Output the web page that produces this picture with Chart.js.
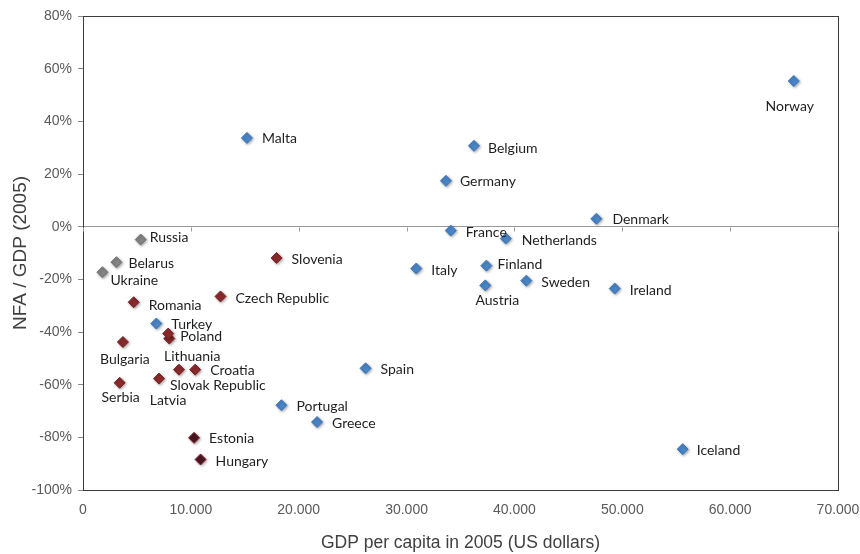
<!DOCTYPE html>
<html>
<head>
<meta charset="utf-8">
<script src="https://cdn.jsdelivr.net/npm/chart.js@4.4.1/dist/chart.umd.min.js"></script>
<style>
  html, body { margin: 0; padding: 0; background: #fff; }
  #wrap { width: 860px; height: 554px; }
</style>
</head>
<body>
<div id="wrap"><canvas id="nfa-chart" width="860" height="554"></canvas></div>
<script>
// country data (GDP per capita 2005, NFA/GDP in %)
var countries = [
  'Norway', 'Malta', 'Belgium', 'Germany', 'Denmark', 'France', 'Netherlands', 'Italy',
  'Finland', 'Austria', 'Sweden', 'Ireland', 'Iceland', 'Spain', 'Portugal', 'Greece', 'Turkey',
  'Slovenia', 'Czech Republic', 'Romania', 'Poland', 'Lithuania', 'Bulgaria', 'Croatia',
  'Slovak Republic', 'Latvia', 'Serbia',
  'Russia', 'Belarus', 'Ukraine',
  'Estonia', 'Hungary'
];
var gdpPerCapita = [
  65900, 15200, 36250, 33650, 47600, 34100, 39200, 30900,
  37400, 37300, 41100, 49300, 55600, 26200, 18400, 21700, 6800,
  17950, 12750, 4700, 8000, 7900, 3700, 10400,
  8900, 7050, 3400,
  5350, 3100, 1800,
  10300, 10900
];
var nfaShare = [
  55.3, 33.7, 30.7, 17.4, 3.0, -1.5, -4.5, -15.9,
  -14.8, -22.3, -20.5, -23.5, -84.5, -53.8, -67.8, -74.2, -36.8,
  -11.9, -26.5, -28.7, -42.5, -40.6, -43.8, -54.3,
  -54.3, -57.7, -59.3,
  -4.9, -13.5, -17.3,
  -80.2, -88.4
];
var groups = [
  'west', 'west', 'west', 'west', 'west', 'west', 'west', 'west',
  'west', 'west', 'west', 'west', 'west', 'west', 'west', 'west', 'west',
  'east', 'east', 'east', 'east', 'east', 'east', 'east',
  'east', 'east', 'east',
  'cis', 'cis', 'cis',
  'deep', 'deep'
];
var xTicks = [0, 10000, 20000, 30000, 40000, 50000, 60000, 70000];
var yTicks = [-100, -80, -60, -40, -20, 0, 20, 40, 60, 80];

var groupStyle = {
  west: { fill: '#4a86c8', edge: '#3f78b8' },
  east: { fill: '#8c2a2c', edge: '#7a2326' },
  cis:  { fill: '#858585', edge: '#737373' },
  deep: { fill: '#4a1620', edge: '#862332' }
};

// where each label sits relative to its marker: [dx, dy, align]
var labelPlace = {
  'Norway': [-4, 25, 'center'], 'Malta': [15, 1, 'left'], 'Belgium': [14, 3, 'left'],
  'Germany': [14, 1, 'left'], 'Denmark': [16, 1, 'left'], 'France': [15, 2, 'left'],
  'Netherlands': [16, 2, 'left'], 'Italy': [15, 2, 'left'], 'Finland': [11, -1, 'left'],
  'Austria': [12, 15, 'center'], 'Sweden': [15, 2, 'left'], 'Ireland': [15, 2, 'left'],
  'Iceland': [14, 1, 'left'], 'Spain': [15, 1, 'left'], 'Portugal': [15, 1, 'left'],
  'Greece': [15, 1, 'left'], 'Turkey': [15, 1, 'left'], 'Slovenia': [15, 1, 'left'],
  'Czech Republic': [15, 2, 'left'], 'Romania': [15, 3, 'left'], 'Poland': [11, -2, 'left'],
  'Lithuania': [24, 23, 'center'], 'Bulgaria': [2, 17, 'center'], 'Croatia': [15, 1, 'left'],
  'Slovak Republic': [-9, 16, 'left'], 'Latvia': [9, 22, 'center'], 'Serbia': [1, 15, 'center'],
  'Russia': [9, -2, 'left'], 'Belarus': [12, 1, 'left'], 'Ukraine': [8, 8, 'left'],
  'Estonia': [15, 1, 'left'], 'Hungary': [15, 2, 'left']
};

function buildDataset(key) {
  var pts = [];
  for (var i = 0; i < countries.length; i++) {
    if (groups[i] === key) pts.push({ x: gdpPerCapita[i], y: nfaShare[i], name: countries[i] });
  }
  return {
    label: key,
    data: pts,
    pointStyle: 'rectRot',
    pointRadius: 5.5,
    pointHoverRadius: 5.5,
    backgroundColor: groupStyle[key].fill,
    borderColor: groupStyle[key].edge,
    borderWidth: 1
  };
}

var framePlugin = {
  id: 'frame',
  beforeDatasetsDraw: function(chart) {
    var ctx = chart.ctx, a = chart.chartArea, sx = chart.scales.x, sy = chart.scales.y;
    ctx.save();
    ctx.strokeStyle = '#3c3c3c';
    ctx.lineWidth = 1;
    ctx.strokeRect(Math.round(a.left) + 0.5, Math.round(a.top) + 0.5, Math.round(a.width), Math.round(a.height));
    var y0 = Math.round(sy.getPixelForValue(0)) + 0.5;
    ctx.strokeStyle = '#9a9a9a';
    xTicks.forEach(function(v) {
      var x = Math.round(sx.getPixelForValue(v)) + 0.5;
      ctx.beginPath();
      ctx.moveTo(x, y0);
      ctx.lineTo(x, y0 + 4);
      ctx.stroke();
    });
    ctx.restore();
  },
  beforeDatasetDraw: function(chart) {
    var ctx = chart.ctx;
    ctx.shadowColor = 'rgba(0,0,0,0.35)';
    ctx.shadowBlur = 3;
    ctx.shadowOffsetX = 1;
    ctx.shadowOffsetY = 1;
  },
  afterDatasetDraw: function(chart) {
    var ctx = chart.ctx;
    ctx.shadowColor = 'rgba(0,0,0,0)';
    ctx.shadowBlur = 0;
    ctx.shadowOffsetX = 0;
    ctx.shadowOffsetY = 0;
  }
};

var labelPlugin = {
  id: 'pointLabels',
  afterDatasetsDraw: function(chart) {
    var ctx = chart.ctx;
    ctx.save();
    ctx.font = '14px Lato, "Open Sans", sans-serif';
    ctx.fillStyle = '#1e1e1e';
    ctx.textBaseline = 'middle';
    chart.data.datasets.forEach(function(ds, di) {
      var meta = chart.getDatasetMeta(di);
      meta.data.forEach(function(pt, i) {
        var name = ds.data[i].name;
        var p = labelPlace[name] || [14, 1, 'left'];
        ctx.textAlign = p[2];
        ctx.fillText(name, pt.x + p[0], pt.y + p[1]);
      });
    });
    ctx.restore();
  }
};

window.addEventListener('load', function() {
  var ctx = document.getElementById('nfa-chart').getContext('2d');
  new Chart(ctx, {
    type: 'scatter',
    data: {
      datasets: [buildDataset('west'), buildDataset('east'), buildDataset('cis'), buildDataset('deep')]
    },
    options: {
      responsive: false,
      animation: false,
      events: [],
      layout: { padding: { top: 16, right: 22, left: 0, bottom: 0 } },
      plugins: {
        legend: { display: false },
        tooltip: { enabled: false }
      },
      scales: {
        x: {
          type: 'linear',
          min: 0,
          max: 70000,
          afterBuildTicks: function(scale) {
            scale.ticks = xTicks.map(function(v) { return { value: v }; });
          },
          afterFit: function(scale) { scale.height = 64; },
          grid: {
            display: true,
            drawOnChartArea: false,
            drawTicks: true,
            tickLength: 12,
            color: 'rgba(0,0,0,0)',
            tickColor: 'rgba(0,0,0,0)'
          },
          border: { display: false },
          ticks: {
            padding: 0,
            color: '#5a5a5a',
            font: { family: '"Liberation Sans", Arial, sans-serif', size: 14 },
            maxRotation: 0,
            callback: function(v) { return v === 0 ? '0' : (v / 1000) + '.000'; }
          },
          title: {
            display: true,
            text: 'GDP per capita in 2005 (US dollars)',
            color: '#404040',
            font: { family: '"Liberation Sans", Arial, sans-serif', size: 17.5 },
            padding: { top: 0, bottom: 0 }
          }
        },
        y: {
          type: 'linear',
          min: -100,
          max: 80,
          afterBuildTicks: function(scale) {
            scale.ticks = yTicks.map(function(v) { return { value: v }; });
          },
          afterFit: function(scale) { scale.width = 83; },
          grid: {
            drawOnChartArea: true,
            tickLength: 5,
            tickColor: '#8a8a8a',
            color: function(c) { return c.tick && c.tick.value === 0 ? '#9a9a9a' : 'rgba(0,0,0,0)'; }
          },
          border: { display: true, color: '#3c3c3c' },
          ticks: {
            padding: 6,
            color: '#5a5a5a',
            font: { family: '"Liberation Sans", Arial, sans-serif', size: 14 },
            callback: function(v) { return v + '%'; }
          },
          title: {
            display: true,
            text: 'NFA / GDP (2005)',
            color: '#404040',
            font: { family: '"Liberation Sans", Arial, sans-serif', size: 19 },
            padding: { top: 9, bottom: 0 }
          }
        }
      }
    },
    plugins: [framePlugin, labelPlugin]
  });
});
</script>
</body>
</html>
